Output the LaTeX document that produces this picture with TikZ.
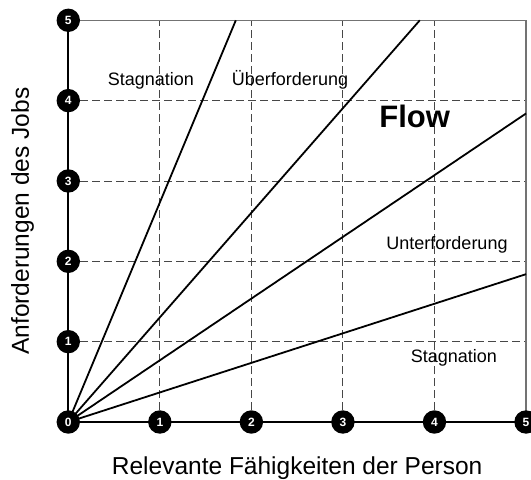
\documentclass[tikz,border=0pt]{standalone}
\usepackage{fontspec}
\setmainfont{Liberation Sans}
\usetikzlibrary{positioning, backgrounds}

\tikzset{
  knob/.style={text=white,inner sep=0pt,font=\bfseries\fontsize{12}{13}\selectfont},
  disc/.style={fill=black},
  grid line/.style={black!72,dash pattern=on 8pt off 4pt,line width=0.9pt},
  border/.style={black!55,line width=1.3pt},
  axis/.style={black,line width=2.2pt},
  ray/.style={black,line width=1.8pt},
  zone/.style={anchor=base,font=\fontsize{18}{21}\selectfont},
}

\begin{document}
\begin{tikzpicture}[x=91.54pt,y=80.34pt]
  \useasboundingbox (-0.7461,-0.7095) rectangle (5.0546,5.2527);

  \node[knob] (o) at (0,0) {0};
  \foreach \i in {1,...,5} {
    \node[knob] (x\i) at (\i,0) {\i};
    \node[knob] (y\i) at (0,\i) {\i};
  }
  \coordinate (corner) at (5,5);

  \begin{scope}[on background layer]
    \foreach \i in {1,...,4} {
      \draw[grid line] (x\i.center) -- (x\i |- corner);
      \draw[grid line] (y\i.center) -- (y\i -| corner);
    }
    \draw[border] (y5.center) -- (corner) -- (x5.center);
    \draw[ray] (o.center) -- (1.83,5);
    \draw[ray] (o.center) -- (3.84,5);
    \draw[ray] (o.center) -- (5,3.84);
    \draw[ray] (o.center) -- (5,1.84);
    \draw[axis] (o.center) -- (x5.center);
    \draw[axis] (o.center) -- (y5.center);
    \fill[disc] (o.center) circle[radius=11.7pt];
    \foreach \i in {1,...,5} {
      \fill[disc] (x\i.center) circle[radius=11.7pt];
      \fill[disc] (y\i.center) circle[radius=11.7pt];
    }
  \end{scope}

  \node[zone] (stagtop) at (0.903,4.186) {Stagnation};
  \node[zone] (ueber) at (2.422,4.186) {Überforderung};
  \node[zone,font=\fontsize{31}{34}\selectfont\bfseries] (flow) at (3.784,3.663) {Flow};
  \node[zone] (unter) at (4.137,2.150) {Unterforderung};
  \node[zone] (stagbot) at (4.213,0.738) {Stagnation};

  \node[anchor=base,font=\fontsize{24.5}{27}\selectfont] (xlabel) at (2.5,-0.651) {Relevante Fähigkeiten der Person};
  \node[anchor=base,rotate=90,font=\fontsize{24.5}{27}\selectfont] (ylabel) at (-0.43,2.5) {Anforderungen des Jobs};
\end{tikzpicture}
\end{document}
